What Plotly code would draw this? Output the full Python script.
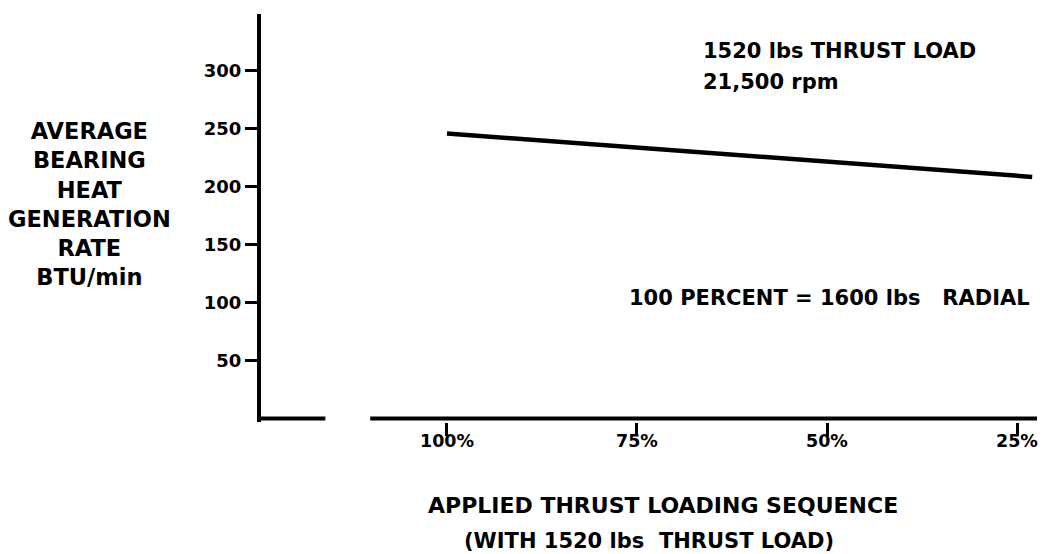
import plotly.graph_objects as go

# ---- data ----
load_pct = [100, 23]            # applied thrust loading sequence position (%)
heat_rate = [246, 208.5]        # BTU/min
x_tick_vals = [100, 75, 50, 25]
x_tick_text = ["100%", "75%", "50%", "25%"]
y_tick_vals = [50, 100, 150, 200, 250, 300]
y_tick_text = ["50", "100", "150", "200", "250", "300"]

# axis geometry (decoration)
X_RANGE = [124.47, 22.37]
Y_RANGE = [-3, 349.1]
X_AXIS_LEFT_SEG = [X_RANGE[0], 116.0]
X_AXIS_RIGHT_SEG = [110.1, X_RANGE[1]]

FONT = "DejaVu Sans"
W, H = 1048, 554
ML, MR, MT, MB = 261, 11, 14, 131.5
PW = W - ML - MR
PH = H - MT - MB


def px_to_paper_x(px):
    return (px - ML) / PW


def px_to_paper_y(py):
    return (H - MB - py) / PH


fig = go.Figure()

# broken x-axis baseline
for seg in (X_AXIS_LEFT_SEG, X_AXIS_RIGHT_SEG):
    fig.add_trace(go.Scatter(x=seg, y=[0, 0], mode="lines",
                             line=dict(color="black", width=4),
                             hoverinfo="skip", showlegend=False))

# data line
fig.add_trace(go.Scatter(x=load_pct, y=heat_rate, mode="lines",
                         line=dict(color="black", width=4.5),
                         showlegend=False))

fig.update_layout(
    width=W, height=H,
    margin=dict(l=ML, r=MR, t=MT, b=MB, pad=0),
    paper_bgcolor="white", plot_bgcolor="white",
    font=dict(family=FONT, color="black"),
    xaxis=dict(range=X_RANGE, showgrid=False, zeroline=False, showline=False,
               tickmode="array", tickvals=x_tick_vals, ticktext=x_tick_text,
               showticklabels=False,
               ticks="outside", ticklen=13, tickwidth=3, tickcolor="black"),
    yaxis=dict(range=Y_RANGE, showgrid=False, zeroline=False,
               showline=True, linewidth=4, linecolor="black",
               tickmode="array", tickvals=y_tick_vals, ticktext=y_tick_text,
               ticks="outside", ticklen=12, tickwidth=3, tickcolor="black",
               tickfont=dict(family=FONT, size=18, color="black", weight="bold")),
)

bold = dict(family=FONT, color="black", weight="bold")

# x tick labels placed just under the ticks
for v, t in zip(x_tick_vals, x_tick_text):
    fig.add_annotation(text=t, xref="x", yref="paper", x=v, y=px_to_paper_y(442),
                       xanchor="center", yanchor="middle", showarrow=False,
                       font=dict(size=17.5, **bold))

fig.add_annotation(text="AVERAGE<br>BEARING<br>HEAT<br>GENERATION<br>RATE<br>BTU/min",
                   xref="paper", yref="paper", x=px_to_paper_x(89), y=px_to_paper_y(204.5),
                   xanchor="center", yanchor="middle", showarrow=False, align="center",
                   font=dict(size=22.5, **bold))
fig.add_annotation(text="APPLIED THRUST LOADING SEQUENCE",
                   xref="paper", yref="paper", x=px_to_paper_x(426), y=px_to_paper_y(506),
                   xanchor="left", yanchor="middle", showarrow=False,
                   font=dict(size=22, **bold))
fig.add_annotation(text="(WITH 1520 lbs  THRUST LOAD)",
                   xref="paper", yref="paper", x=px_to_paper_x(462), y=px_to_paper_y(542),
                   xanchor="left", yanchor="middle", showarrow=False,
                   font=dict(size=21, **bold))
fig.add_annotation(text="1520 lbs THRUST LOAD", xref="x", yref="y", x=66.6, y=317.2,
                   xanchor="left", yanchor="middle", showarrow=False,
                   font=dict(size=21, **bold))
fig.add_annotation(text="21,500 rpm", xref="x", yref="y", x=66.6, y=290.5,
                   xanchor="left", yanchor="middle", showarrow=False,
                   font=dict(size=21, **bold))
fig.add_annotation(text="100 PERCENT = 1600 lbs   RADIAL", xref="x", yref="y", x=76.3, y=104.3,
                   xanchor="left", yanchor="middle", showarrow=False,
                   font=dict(size=21, **bold))

fig.write_html("out.html", config={"displayModeBar": False},
               post_script="document.body.style.margin='0';document.body.style.overflow='hidden';")
